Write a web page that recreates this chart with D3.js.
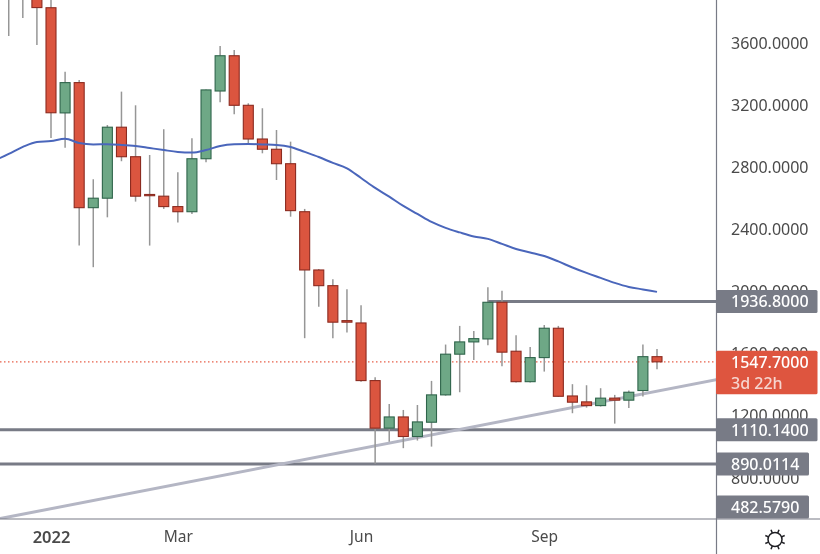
<!DOCTYPE html>
<html><head><meta charset="utf-8">
<script src="https://cdn.jsdelivr.net/npm/d3@7"></script>
<style>
html,body{margin:0;padding:0;background:#fff;overflow:hidden}
svg{display:block;filter:blur(0.3px)}
text{font-family:"Noto Sans",sans-serif}
</style></head><body>
<svg id="c" width="820" height="554"></svg>
<script>
const firstWeek = new Date(Date.UTC(2021,11,6));
const openVals  = [4100,4000,4020,3950,3827,3150,3345,2540,2601,3058,2868,2625,2614,2547,2514,2855,3291,3518,3199,2982,2916,2823,2514,2139,2038,1813,1798,1427,1121,1193,1067,1159,1335,1597,1676,1695,1931,1616,1420,1575,1764,1328,1290,1266,1314,1301,1363,1581];
const closeVals = [4060,4020,3950,3828,3151,3345,2540,2601,3058,2868,2614,2617,2547,2514,2855,3298,3518,3199,2982,2916,2823,2521,2139,2038,1803,1803,1427,1121,1193,1067,1161,1335,1597,1676,1697,1931,1610,1420,1575,1764,1326,1288,1266,1314,1301,1352,1581,1547.7];
const highVals  = [4200,4100,4100,4000,3900,3415,3362,2723,3072,3287,3199,2879,3045,2768,2987,3300,3581,3555,3212,3180,3040,2965,2532,2145,2079,2015,1912,1449,1277,1238,1270,1425,1659,1779,1747,2028,2006,1719,1644,1785,1779,1404,1397,1378,1335,1363,1659,1631];
const lowVals   = [4000,3645,3761,3587,2989,2926,2296,2157,2478,2839,2579,2296,2532,2444,2500,2832,3218,3141,2948,2890,2718,2482,1700,1903,1700,1736,1420,891,1034,992,1041,1002,1330,1352,1560,1655,1520,1415,1415,1485,1322,1217,1253,1260,1150,1251,1324,1500];
const maVals    = [2844,2886,2931,2963,2969,2984,2956,2947,2948,2944,2937,2924,2911,2899,2895,2911,2937,2948,2950,2947,2944,2931,2899,2866,2828,2793,2731,2667,2611,2551,2500,2448,2410,2381,2355,2339,2307,2274,2252,2229,2194,2155,2120,2088,2056,2030,2014,1998];
const priceTicks = [3600,3200,2800,2400,2000,1600,1200,800];
const timeTicks = [new Date(Date.UTC(2022,0,3)),new Date(Date.UTC(2022,2,7)),new Date(Date.UTC(2022,5,6)),new Date(Date.UTC(2022,8,5))];
const timeLabels = ["2022","Mar","Jun","Sep"];
const levelPrices = [1110.14,890.0114];
const resistancePrice = 1936.8;
const resistanceStart = new Date(Date.UTC(2022,7,8));
const lastPrice = 1547.7;
const countdown = "3d 22h";
const trendDates = [new Date(Date.UTC(2021,11,6)),new Date(Date.UTC(2022,11,5))];
const trendVals = [532,1447];
const badgeVals = [1936.8,1110.14,890.0114,482.579];

const W=820,H=554,PW=716,PH=519;
const weeks = d3.utcMonday.range(firstWeek,new Date(Date.UTC(2022,10,1)));
const x = d3.scaleUtc().domain([new Date(Date.UTC(2022,0,3)),new Date(Date.UTC(2022,9,31))]).range([51,657]);
const y = d3.scaleLinear().domain([3600,800]).range([43,478]);
const svg = d3.select("#c");
const fmt = d3.format(".4f");
const gridGrey="#787b86";

svg.append("defs").append("clipPath").attr("id","plot").append("rect").attr("width",PW).attr("height",PH);
const plot = svg.append("g").attr("clip-path","url(#plot)");

// horizontal levels
plot.selectAll("line.level").data(levelPrices).join("line").attr("class","level")
  .attr("x1",0).attr("x2",PW).attr("y1",d=>y(d)).attr("y2",d=>y(d))
  .attr("stroke",gridGrey).attr("stroke-width",3);
plot.append("line").attr("x1",x(resistanceStart)).attr("x2",PW)
  .attr("y1",y(resistancePrice)).attr("y2",y(resistancePrice))
  .attr("stroke",gridGrey).attr("stroke-width",3);
// rising trend line
plot.append("line").attr("x1",x(trendDates[0])).attr("x2",x(trendDates[1]))
  .attr("y1",y(trendVals[0])).attr("y2",y(trendVals[1]))
  .attr("stroke","#b4b6c4").attr("stroke-width",3);
// last price dotted line
plot.append("line").attr("x1",0).attr("x2",PW).attr("y1",y(lastPrice)).attr("y2",y(lastPrice))
  .attr("stroke","#e8604a").attr("stroke-width",1.1).attr("stroke-dasharray","1.5 2.5");

// candles
const rows = weeks.map((d,i)=>({d,o:openVals[i],c:closeVals[i],h:highVals[i],l:lowVals[i]}));
const candle = plot.selectAll("g.candle").data(rows).join("g").attr("class","candle");
candle.append("line").attr("x1",d=>x(d.d)).attr("x2",d=>x(d.d))
  .attr("y1",d=>y(d.h)).attr("y2",d=>y(d.l)).attr("stroke","#969696").attr("stroke-width",1.5);
const bodyW=10;
candle.append("rect").attr("x",d=>x(d.d)-bodyW/2).attr("width",bodyW)
  .attr("y",d=>y(Math.max(d.o,d.c))).attr("height",d=>Math.abs(y(d.o)-y(d.c)))
  .attr("fill",d=>d.c>=d.o?"#6ea886":"#db553f")
  .attr("stroke",d=>d.c>=d.o?"#2f654b":"#8c2b20").attr("stroke-width",1.1);

// moving average
plot.append("path").datum(weeks.map((d,i)=>({d,v:maVals[i]})))
  .attr("fill","none").attr("stroke","#4a66bb").attr("stroke-width",2)
  .attr("d",d3.line().x(d=>x(d.d)).y(d=>y(d.v)).curve(d3.curveMonotoneX));

// axes frame
svg.append("line").attr("x1",0).attr("x2",W).attr("y1",PH).attr("y2",PH).attr("stroke",gridGrey).attr("stroke-width",1.2);
svg.append("line").attr("x1",PW+.5).attr("x2",PW+.5).attr("y1",0).attr("y2",H).attr("stroke",gridGrey).attr("stroke-width",1.2);

// price axis
const ay = svg.append("g").attr("transform",`translate(${PW},0)`)
  .call(d3.axisRight(y).tickValues(priceTicks).tickFormat(fmt).tickSize(0).tickPadding(15));
ay.select(".domain").remove();
ay.selectAll("text").attr("font-size",16).attr("fill","#4a4a4a").style("font-family",'"Noto Sans",sans-serif');

// time axis
const ax = svg.append("g").attr("transform",`translate(0,${PH})`)
  .call(d3.axisBottom(x).tickValues(timeTicks).tickFormat((d,i)=>timeLabels[i]).tickSize(0).tickPadding(12));
ax.select(".domain").remove();
ax.selectAll("text").attr("font-size",(d,i)=>i===0?16.5:15.5).attr("fill","#4a4a4a")
  .attr("font-weight",(d,i)=>i===0?600:400).style("font-family",'"Noto Sans",sans-serif');

// price badges
const bh=23;
const badgeRight = v=>v>=1000?817.5:809;
const badges = svg.selectAll("g.badge").data(badgeVals).join("g").attr("class","badge")
  .attr("transform",d=>`translate(${PW},${Math.min(y(d),PH-bh/2-.5)})`);
badges.append("rect").attr("x",0).attr("y",-bh/2).attr("width",d=>badgeRight(d)-PW).attr("height",bh).attr("rx",1.5).attr("fill",gridGrey);
badges.append("text").attr("x",15).attr("y",0).attr("dy","0.36em").attr("font-size",16).attr("font-weight",500).attr("fill","#fff").text(fmt);

// last price badge
const lp = svg.append("g").attr("transform",`translate(${PW},${y(lastPrice)})`);
lp.append("rect").attr("x",0).attr("y",-11).attr("width",817.5-PW).attr("height",43.5).attr("rx",1.5).attr("fill","#de553f");
lp.append("text").attr("x",15).attr("y",0).attr("dy","0.36em").attr("font-size",16).attr("font-weight",500).attr("fill","#fff").text(fmt(lastPrice));
lp.append("text").attr("x",15).attr("y",21).attr("dy","0.36em").attr("font-size",16).attr("font-weight",500).attr("fill","#f6d5cf").text(countdown);

// settings icon
const sun = svg.append("g").attr("transform","translate(775,539.5)").attr("stroke","#1f1f24").attr("fill","none");
sun.append("circle").attr("r",7).attr("stroke-width",1.5);
d3.range(8).forEach(k=>{
  const a=k*Math.PI/4+Math.PI/8;
  sun.append("line").attr("x1",7*Math.cos(a)).attr("y1",7*Math.sin(a)).attr("x2",10.5*Math.cos(a)).attr("y2",10.5*Math.sin(a)).attr("stroke-width",1.5);
});
</script>
</body></html>
